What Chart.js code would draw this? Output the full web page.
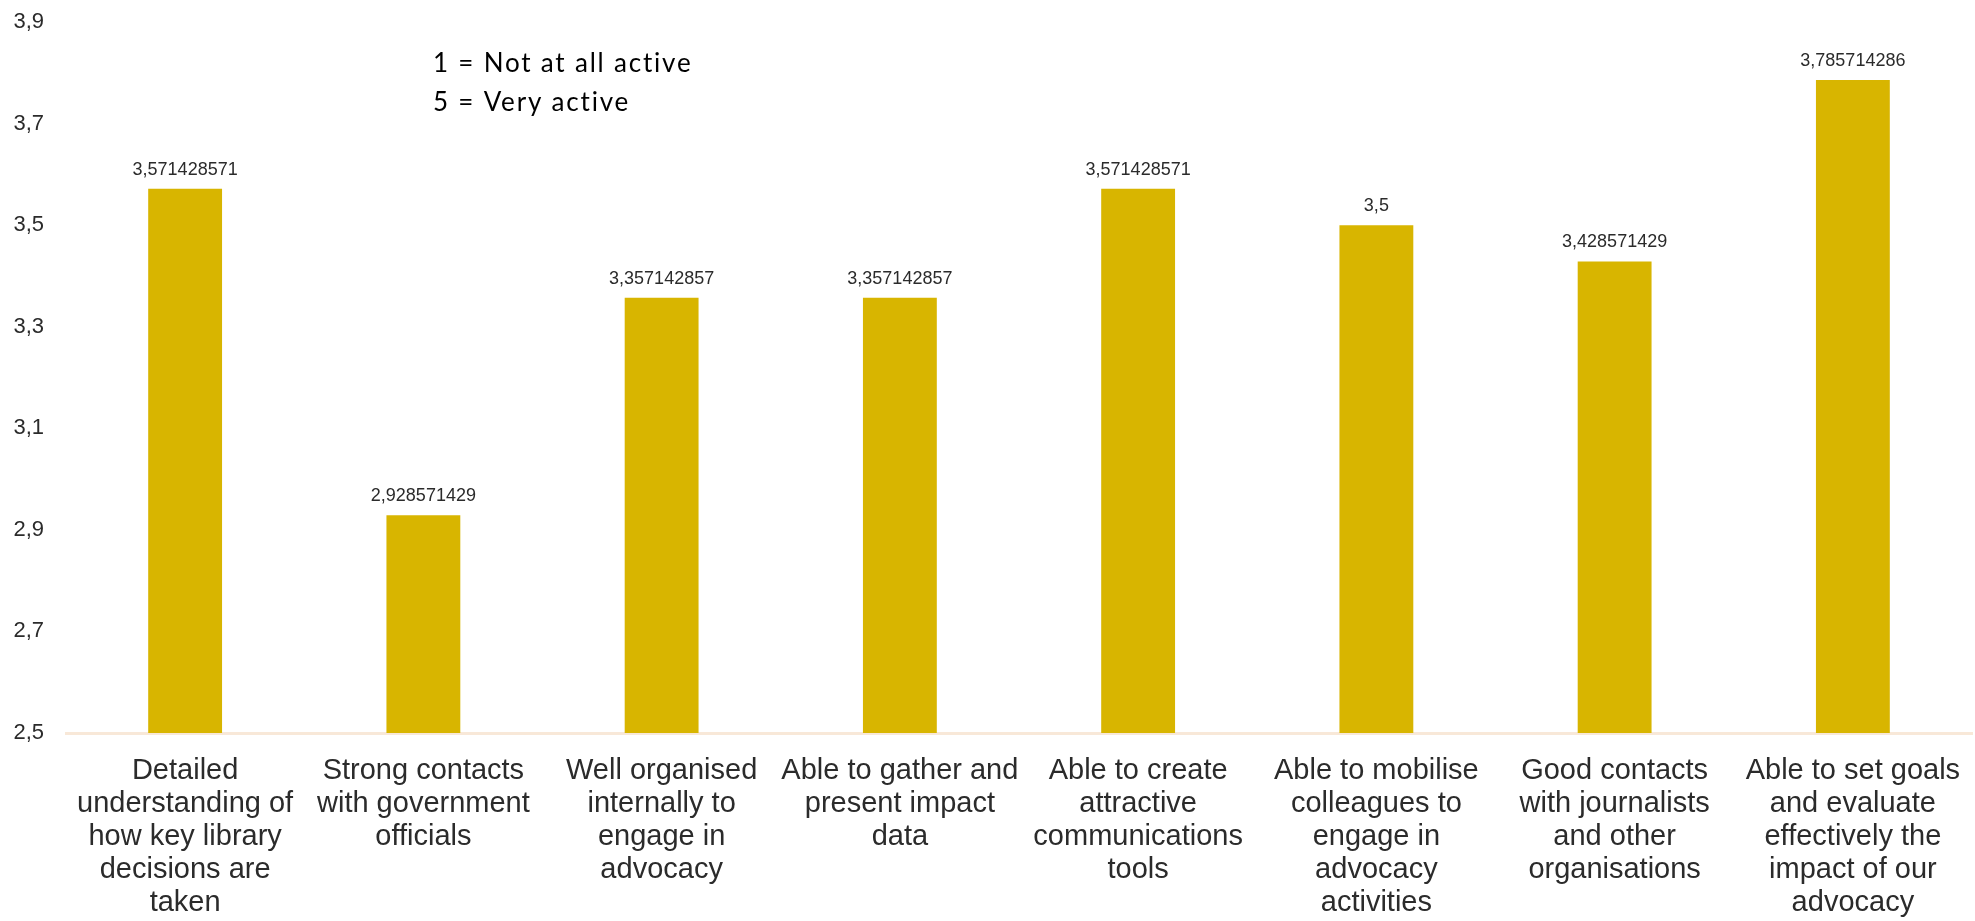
<!DOCTYPE html>
<html>
<head>
<meta charset="utf-8">
<script src="https://cdn.jsdelivr.net/npm/chart.js@4/dist/chart.umd.min.js"></script>
<style>
  html, body { margin: 0; padding: 0; background: #ffffff; }
  #wrap { width: 1975px; height: 921px; position: relative; }
</style>
</head>
<body>
<div id="wrap"><canvas id="activityChart" width="1975" height="921"></canvas></div>
<script>
// Categories (wrapped the same way as the axis labels)
const categories = [
    ['Detailed', 'understanding of', 'how key library', 'decisions are', 'taken'],
    ['Strong contacts', 'with government', 'officials'],
    ['Well organised', 'internally to', 'engage in', 'advocacy'],
    ['Able to gather and', 'present impact', 'data'],
    ['Able to create', 'attractive', 'communications', 'tools'],
    ['Able to mobilise', 'colleagues to', 'engage in', 'advocacy', 'activities'],
    ['Good contacts', 'with journalists', 'and other', 'organisations'],
    ['Able to set goals', 'and evaluate', 'effectively the', 'impact of our', 'advocacy']
];

// Average scores
const scores = [3.571428571, 2.928571429, 3.357142857, 3.357142857, 3.571428571, 3.5, 3.428571429, 3.785714286];

// Value axis
const yMin = 2.5;
const yMax = 3.9;
const yStep = 0.2;

// Scale note shown in the top left
const scaleNote = ['1 = Not at all active', '5 = Very active'];

const barColor = '#D8B500';
const textColor = '#2b2b2b';

function toComma(v, digits) {
    return (digits === undefined ? String(v) : v.toFixed(digits)).replace('.', ',');
}

// Value labels above each bar
const valueLabels = {
    id: 'valueLabels',
    afterDatasetsDraw(chart) {
        const ctx = chart.ctx;
        const meta = chart.getDatasetMeta(0);
        ctx.save();
        ctx.font = '18px "Liberation Sans", Arial, sans-serif';
        ctx.fillStyle = textColor;
        ctx.textAlign = 'center';
        ctx.textBaseline = 'middle';
        meta.data.forEach((bar, i) => {
            ctx.fillText(toComma(scores[i]), bar.x, bar.y - 19);
        });
        ctx.restore();
    }
};

// Scale note text
const noteText = {
    id: 'noteText',
    afterDraw(chart) {
        const ctx = chart.ctx;
        ctx.save();
        ctx.font = '26px Lato, "Open Sans", sans-serif';
        ctx.letterSpacing = '1.8px';
        ctx.fillStyle = '#000000';
        ctx.textAlign = 'left';
        ctx.textBaseline = 'middle';
        scaleNote.forEach((line, i) => {
            ctx.fillText(line, 433, 64 + i * 39);
        });
        ctx.restore();
    }
};

const ctx = document.getElementById('activityChart').getContext('2d');
new Chart(ctx, {
    type: 'bar',
    data: {
        labels: categories,
        datasets: [{
            data: scores,
            backgroundColor: barColor,
            borderWidth: 0,
            categoryPercentage: 1,
            barPercentage: 0.31
        }]
    },
    options: {
        responsive: false,
        animation: false,
        layout: { padding: { top: 22, right: 3, left: 0, bottom: 0 } },
        plugins: {
            legend: { display: false },
            tooltip: { enabled: false }
        },
        scales: {
            x: {
                grid: { display: false, drawTicks: false },
                border: { display: true, color: '#F8E8D8', width: 3 },
                ticks: {
                    autoSkip: false,
                    maxRotation: 0,
                    minRotation: 0,
                    padding: 21,
                    color: textColor,
                    font: { family: '"Liberation Sans", Arial, sans-serif', size: 29, lineHeight: 1.14 }
                },
                afterFit(scale) {
                    scale.height = 188;
                    scale.paddingLeft = 0;
                    scale.paddingRight = 0;
                }
            },
            y: {
                min: yMin,
                max: yMax,
                grid: { display: false, drawTicks: false },
                border: { display: false },
                ticks: {
                    stepSize: yStep,
                    padding: 22,
                    color: textColor,
                    font: { family: '"Liberation Sans", Arial, sans-serif', size: 22 },
                    callback: v => toComma(v, 1)
                },
                afterFit(scale) {
                    scale.width = 66;
                    scale.paddingTop = 0;
                    scale.paddingBottom = 0;
                }
            }
        }
    },
    plugins: [valueLabels, noteText]
});
</script>
</body>
</html>
